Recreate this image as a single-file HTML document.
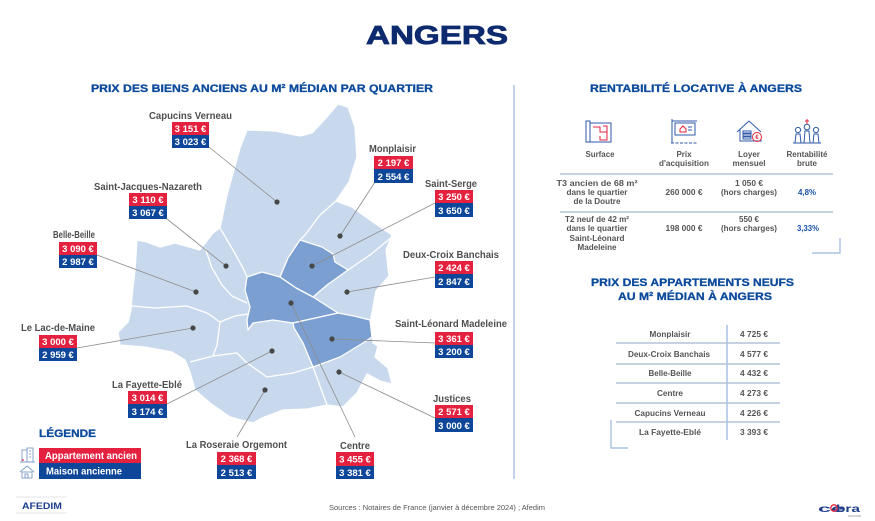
<!DOCTYPE html>
<html><head><meta charset="utf-8"><style>
html,body{margin:0;padding:0;background:#fff;}
svg{display:block;font-family:"Liberation Sans",Arial,sans-serif;}
</style></head><body>
<svg width="875" height="521" viewBox="0 0 875 521" xmlns="http://www.w3.org/2000/svg">
<rect width="875" height="521" fill="#fff"/>
<!-- Title -->
<text x="437" y="44" text-anchor="middle" font-size="26" font-weight="bold" fill="#0d2a6e" textLength="142" lengthAdjust="spacingAndGlyphs" stroke="#0d2a6e" stroke-width="0.8">ANGERS</text>
<!-- Left header -->
<text x="91" y="92" font-size="11" font-weight="bold" fill="#0c4a9c" textLength="342" lengthAdjust="spacingAndGlyphs" stroke="#0c4a9c" stroke-width="0.3">PRIX DES BIENS ANCIENS AU M² MÉDIAN PAR QUARTIER</text>
<!-- divider -->
<line x1="514" y1="85" x2="514" y2="479" stroke="#9bb7df" stroke-width="1.2"/>

<!-- MAP -->
<g stroke="#fff" stroke-width="1.3" stroke-linejoin="round">
<polygon fill="#c9d9ed" points="247,130 275,131 300,136 312,133 326,118 338,104 348,107 355,127 357,157 349,182 336,201 352,207 370,220 392,235 386,250 389,276 376,291 371,318 373,343 378,346 375,357 388,368 392,384 380,381 367,374 357,393 343,407 327,405 307,409 283,410 262,418 253,423 230,417 210,403 195,390 190,372 185,360 172,352 145,347 120,345 118,332 128,322 131,310 132,296 135,270 137,240 147,242 160,247 175,243 200,250 213,233 220,228 227,195 234,170 240,148"/>
<polygon fill="#7b9fd1" points="300,240 322,247 333,254 335,262 348,270 327,285 313,297 296,288 280,277 288,258"/>
<polygon fill="#7b9fd1" points="247,277 262,272 280,277 296,288 313,297 338,313 320,317 293,323 273,320 253,323 248,330 247,320 250,307 245,290"/>
<polygon fill="#7b9fd1" points="338,313 354,316 370,320 372,337 363,343 340,357 313,367 303,343 294,328 293,323 320,317"/>
</g>
<g stroke="#fff" stroke-width="1.3" fill="none" stroke-linejoin="round">
<polyline points="336,201 320,215 305,235 300,240"/>
<polyline points="220,228 233,250 243,268 247,277"/>
<polyline points="205,248 212,268 222,285 232,296 247,303"/>
<polyline points="132,306 155,308 187,306 207,313 220,322 235,316 248,314"/>
<polyline points="220,322 217,345 213,356"/>
<polyline points="190,362 213,356 237,353 247,363 267,377 293,373 313,367"/>
<polyline points="313,367 320,386 327,405"/>
<polyline points="348,270 370,255 392,237"/>
</g>

<!-- leader lines -->
<g stroke="#8c8c8c" stroke-width="0.8" fill="none">
<line x1="209" y1="147" x2="277" y2="202"/>
<line x1="167" y1="219" x2="226" y2="266"/>
<line x1="97" y1="255" x2="196" y2="292"/>
<line x1="77" y1="348" x2="193" y2="328"/>
<line x1="167" y1="404" x2="272" y2="351"/>
<line x1="237" y1="437" x2="265" y2="390"/>
<line x1="355" y1="437" x2="291" y2="303"/>
<line x1="435" y1="343" x2="332" y2="339"/>
<line x1="435" y1="418" x2="339" y2="372"/>
<line x1="435" y1="277" x2="347" y2="292"/>
<line x1="435" y1="203" x2="312" y2="266"/>
<line x1="375" y1="182" x2="340" y2="236"/>
</g>
<g fill="#474747">
<circle cx="277" cy="202" r="2.6"/><circle cx="226" cy="266" r="2.6"/><circle cx="196" cy="292" r="2.6"/>
<circle cx="193" cy="328" r="2.6"/><circle cx="272" cy="351" r="2.6"/><circle cx="265" cy="390" r="2.6"/>
<circle cx="291" cy="303" r="2.6"/><circle cx="332" cy="339" r="2.6"/><circle cx="339" cy="372" r="2.6"/>
<circle cx="347" cy="292" r="2.6"/><circle cx="312" cy="266" r="2.6"/><circle cx="340" cy="236" r="2.6"/>
</g>

<!-- labels -->
<g font-size="10" font-weight="bold" fill="#4f4f4f" lengthAdjust="spacingAndGlyphs">
<text x="149" y="119" textLength="83" lengthAdjust="spacingAndGlyphs">Capucins Verneau</text>
<text x="94" y="190" textLength="108" lengthAdjust="spacingAndGlyphs">Saint-Jacques-Nazareth</text>
<text x="53" y="238" textLength="42" lengthAdjust="spacingAndGlyphs">Belle-Beille</text>
<text x="21" y="331" textLength="74" lengthAdjust="spacingAndGlyphs">Le Lac-de-Maine</text>
<text x="112" y="388" textLength="70" lengthAdjust="spacingAndGlyphs">La Fayette-Eblé</text>
<text x="186" y="448" textLength="101" lengthAdjust="spacingAndGlyphs">La Roseraie Orgemont</text>
<text x="340" y="449" textLength="30" lengthAdjust="spacingAndGlyphs">Centre</text>
<text x="433" y="402" textLength="38" lengthAdjust="spacingAndGlyphs">Justices</text>
<text x="395" y="327" textLength="112" lengthAdjust="spacingAndGlyphs">Saint-Léonard Madeleine</text>
<text x="403" y="258" textLength="96" lengthAdjust="spacingAndGlyphs">Deux-Croix Banchais</text>
<text x="425" y="187" textLength="52" lengthAdjust="spacingAndGlyphs">Saint-Serge</text>
<text x="369" y="152" textLength="47" lengthAdjust="spacingAndGlyphs">Monplaisir</text>
</g>

<!-- price boxes -->
<g font-size="9.5" font-weight="bold" fill="#fff" text-anchor="middle">
<rect x="172" y="122" width="37" height="13" fill="#e4223f"/><rect x="172" y="135" width="37" height="13" fill="#0e4799"/>
<text x="190.5" y="132">3 151 €</text><text x="190.5" y="145">3 023 €</text>
<rect x="129" y="193" width="38" height="13" fill="#e4223f"/><rect x="129" y="206" width="38" height="13" fill="#0e4799"/>
<text x="148" y="203">3 110 €</text><text x="148" y="216">3 067 €</text>
<rect x="59" y="242" width="38" height="13" fill="#e4223f"/><rect x="59" y="255" width="38" height="13" fill="#0e4799"/>
<text x="78" y="252">3 090 €</text><text x="78" y="265">2 987 €</text>
<rect x="39" y="335" width="38" height="13" fill="#e4223f"/><rect x="39" y="348" width="38" height="13" fill="#0e4799"/>
<text x="58" y="345">3 000 €</text><text x="58" y="358">2 959 €</text>
<rect x="128" y="391" width="39" height="13" fill="#e4223f"/><rect x="128" y="404" width="39" height="14" fill="#0e4799"/>
<text x="147.5" y="401">3 014 €</text><text x="147.5" y="415">3 174 €</text>
<rect x="217" y="452" width="39" height="13" fill="#e4223f"/><rect x="217" y="465" width="39" height="14" fill="#0e4799"/>
<text x="236.5" y="462">2 368 €</text><text x="236.5" y="476">2 513 €</text>
<rect x="336" y="452" width="38" height="14" fill="#e4223f"/><rect x="336" y="466" width="38" height="13" fill="#0e4799"/>
<text x="355" y="462.5">3 455 €</text><text x="355" y="476">3 381 €</text>
<rect x="435" y="405" width="38" height="13" fill="#e4223f"/><rect x="435" y="418" width="38" height="14" fill="#0e4799"/>
<text x="454" y="415">2 571 €</text><text x="454" y="429">3 000 €</text>
<rect x="435" y="332" width="38" height="13" fill="#e4223f"/><rect x="435" y="345" width="38" height="13" fill="#0e4799"/>
<text x="454" y="342">3 361 €</text><text x="454" y="355">3 200 €</text>
<rect x="435" y="261" width="38" height="13" fill="#e4223f"/><rect x="435" y="274" width="38" height="14" fill="#0e4799"/>
<text x="454" y="271">2 424 €</text><text x="454" y="285">2 847 €</text>
<rect x="435" y="190" width="38" height="13" fill="#e4223f"/><rect x="435" y="203" width="38" height="14" fill="#0e4799"/>
<text x="454" y="200">3 250 €</text><text x="454" y="214">3 650 €</text>
<rect x="374" y="156" width="39" height="13" fill="#e4223f"/><rect x="374" y="169" width="39" height="14" fill="#0e4799"/>
<text x="393.5" y="166">2 197 €</text><text x="393.5" y="180">2 554 €</text>
</g>

<!-- Legend -->
<text x="39" y="437" font-size="11" font-weight="bold" fill="#0c4a9c" textLength="57" lengthAdjust="spacingAndGlyphs" stroke="#0c4a9c" stroke-width="0.3">LÉGENDE</text>
<rect x="39" y="448" width="102" height="15" fill="#e4223f"/>
<rect x="39" y="463" width="102" height="16" fill="#0e4799"/>
<text x="45" y="459" font-size="10" font-weight="bold" fill="#fff" textLength="92" lengthAdjust="spacingAndGlyphs">Appartement ancien</text>
<text x="46" y="474.5" font-size="10" font-weight="bold" fill="#fff" textLength="76" lengthAdjust="spacingAndGlyphs">Maison ancienne</text>
<g stroke="#7d9cc9" stroke-width="0.9" fill="none">
<rect x="22" y="450" width="5" height="12"/><rect x="27" y="448" width="6" height="14"/>
<line x1="20" y1="462" x2="35" y2="462"/>
<line x1="29" y1="451" x2="31" y2="451"/><line x1="29" y1="454" x2="31" y2="454"/><line x1="29" y1="457" x2="31" y2="457"/>
<polyline points="20,472 27,466 34,472"/><rect x="22" y="472" width="10" height="6"/><rect x="25" y="474" width="3" height="4"/>
</g>
<circle cx="23" cy="460" r="0.9" fill="#e4223f"/>

<!-- Afedim logo -->
<line x1="16" y1="497" x2="67" y2="497" stroke="#ddd" stroke-width="0.8"/>
<line x1="16" y1="513" x2="67" y2="513" stroke="#ddd" stroke-width="0.8"/>
<text x="22" y="509" font-size="9" font-weight="bold" fill="#1d3f8e" textLength="40" lengthAdjust="spacingAndGlyphs">AFEDIM</text>

<!-- Footer -->
<text x="329" y="510" font-size="7.5" fill="#555" textLength="216" lengthAdjust="spacingAndGlyphs">Sources : Notaires de France (janvier à décembre 2024) ; Afedim</text>

<!-- Ebra logo -->
<text x="818" y="512" font-size="10" font-weight="bold" fill="#1f3f8a" textLength="26" lengthAdjust="spacingAndGlyphs">ce</text>
<text x="836" y="512" font-size="10" font-weight="bold" fill="#1f3f8a" textLength="24" lengthAdjust="spacingAndGlyphs">bra</text>
<circle cx="834" cy="508" r="3.2" fill="none" stroke="#e4223f" stroke-width="1.3"/>
<text x="848" y="517" font-size="3" fill="#888">GROUPE</text>

<!-- RIGHT: Rentabilité -->
<text x="590" y="92" font-size="11" font-weight="bold" fill="#0c4a9c" textLength="212" lengthAdjust="spacingAndGlyphs" stroke="#0c4a9c" stroke-width="0.3">RENTABILITÉ LOCATIVE À ANGERS</text>

<!-- icons -->
<g stroke="#2d5aa8" stroke-width="1" fill="none">
<!-- surface -->
<rect x="586" y="121" width="4" height="21"/>
<rect x="590" y="123" width="21" height="19"/>
<!-- prix -->
<line x1="672" y1="119" x2="672" y2="143"/><line x1="671" y1="143" x2="697" y2="143" stroke-dasharray="3,1.5"/>
<line x1="672" y1="121" x2="697" y2="121"/>
<rect x="675" y="123" width="20" height="12"/>
<line x1="688" y1="127" x2="692" y2="127"/><line x1="688" y1="130" x2="692" y2="130"/>
<!-- loyer -->
<polyline points="737,132 749,121 761,132"/>
<polyline points="740,129 740,141 762,141"/>
<rect x="743" y="131" width="8" height="2"/><rect x="743" y="134" width="8" height="2"/><rect x="743" y="137" width="8" height="2"/>
<!-- rentabilite -->
<circle cx="798" cy="130" r="2.6"/><circle cx="807" cy="127" r="2.8"/><circle cx="816" cy="130" r="2.6"/>
<path d="M795,143 L796,134 L800,134 L801,143 Z"/>
<path d="M804,143 L805,131 L809,131 L810,143 Z"/>
<path d="M813,143 L814,134 L818,134 L819,143 Z"/>
<line x1="793" y1="143" x2="821" y2="143"/>
</g>
<g stroke="#e4223f" stroke-width="1" fill="none">
<polyline points="593,127 600,127 600,132 607,132"/><polyline points="603,126 607,126 607,140 600,140 600,136"/>
<path d="M680,129 L683,126 L686,129 L686,132 L680,132 Z"/>
<circle cx="757" cy="137" r="4.5"/>
<line x1="807" y1="119" x2="807" y2="124"/><line x1="805" y1="121" x2="809" y2="121"/>
</g>
<text x="757" y="139" font-size="6" fill="#e4223f" text-anchor="middle" font-weight="bold">€</text>

<g font-size="8" font-weight="bold" fill="#555" text-anchor="middle">
<text x="600" y="157" textLength="29" lengthAdjust="spacingAndGlyphs">Surface</text>
<text x="684" y="157">Prix</text>
<text x="684" y="166" textLength="50" lengthAdjust="spacingAndGlyphs">d'acquisition</text>
<text x="749" y="157">Loyer</text>
<text x="749" y="166" textLength="33" lengthAdjust="spacingAndGlyphs">mensuel</text>
<text x="807" y="157" textLength="41" lengthAdjust="spacingAndGlyphs">Rentabilité</text>
<text x="807" y="166">brute</text>

<text x="597" y="186" textLength="81" lengthAdjust="spacingAndGlyphs">T3 ancien de 68 m²</text>
<text x="597" y="195" textLength="61" lengthAdjust="spacingAndGlyphs">dans le quartier</text>
<text x="597" y="204" textLength="47" lengthAdjust="spacingAndGlyphs">de la Doutre</text>
<text x="684" y="195" textLength="37" lengthAdjust="spacingAndGlyphs">260 000 €</text>
<text x="749" y="186" textLength="28" lengthAdjust="spacingAndGlyphs">1 050 €</text>
<text x="749" y="195" textLength="56" lengthAdjust="spacingAndGlyphs">(hors charges)</text>
<text x="807" y="195" fill="#1a52a8" textLength="18" lengthAdjust="spacingAndGlyphs">4,8%</text>

<text x="597" y="222" textLength="64" lengthAdjust="spacingAndGlyphs">T2 neuf de 42 m²</text>
<text x="597" y="231" textLength="61" lengthAdjust="spacingAndGlyphs">dans le quartier</text>
<text x="597" y="241" textLength="55" lengthAdjust="spacingAndGlyphs">Saint-Léonard</text>
<text x="597" y="250" textLength="39" lengthAdjust="spacingAndGlyphs">Madeleine</text>
<text x="684" y="231" textLength="37" lengthAdjust="spacingAndGlyphs">198 000 €</text>
<text x="749" y="222" textLength="20" lengthAdjust="spacingAndGlyphs">550 €</text>
<text x="749" y="231" textLength="56" lengthAdjust="spacingAndGlyphs">(hors charges)</text>
<text x="808" y="231" fill="#1a52a8" textLength="22" lengthAdjust="spacingAndGlyphs">3,33%</text>
</g>
<line x1="560" y1="174" x2="833" y2="174" stroke="#b3c3dc" stroke-width="1.5"/>
<line x1="560" y1="212" x2="833" y2="212" stroke="#b3c3dc" stroke-width="1.5"/>
<polyline points="840,238 840,253 812,253" fill="none" stroke="#9bb7df" stroke-width="1.2"/>

<!-- RIGHT: prix neufs -->
<text x="591" y="286" font-size="11" font-weight="bold" fill="#0c4a9c" textLength="203" lengthAdjust="spacingAndGlyphs" stroke="#0c4a9c" stroke-width="0.3">PRIX DES APPARTEMENTS NEUFS</text>
<text x="618" y="300" font-size="11" font-weight="bold" fill="#0c4a9c" textLength="154" lengthAdjust="spacingAndGlyphs" stroke="#0c4a9c" stroke-width="0.3">AU M² MÉDIAN À ANGERS</text>

<line x1="727" y1="325" x2="727" y2="440" stroke="#8fb0dc" stroke-width="1.2"/>
<g stroke="#b3c3dc" stroke-width="1.4">
<line x1="616" y1="343" x2="780" y2="343"/>
<line x1="616" y1="364" x2="780" y2="364"/>
<line x1="616" y1="383" x2="780" y2="383"/>
<line x1="616" y1="403" x2="780" y2="403"/>
<line x1="616" y1="422" x2="780" y2="422"/>
</g>
<polyline points="611,420 611,448 628,448" fill="none" stroke="#9bb7df" stroke-width="1.2"/>
<g font-size="8" font-weight="bold" fill="#555" text-anchor="middle">
<text x="670" y="337" textLength="41" lengthAdjust="spacingAndGlyphs">Monplaisir</text>
<text x="669" y="357" textLength="82" lengthAdjust="spacingAndGlyphs">Deux-Croix Banchais</text>
<text x="670" y="376" textLength="43" lengthAdjust="spacingAndGlyphs">Belle-Beille</text>
<text x="670" y="396" textLength="26" lengthAdjust="spacingAndGlyphs">Centre</text>
<text x="670" y="416" textLength="71" lengthAdjust="spacingAndGlyphs">Capucins Verneau</text>
<text x="670" y="435" textLength="62" lengthAdjust="spacingAndGlyphs">La Fayette-Eblé</text>
<text x="754" y="337" textLength="28" lengthAdjust="spacingAndGlyphs">4 725 €</text>
<text x="754" y="357" textLength="28" lengthAdjust="spacingAndGlyphs">4 577 €</text>
<text x="754" y="376" textLength="28" lengthAdjust="spacingAndGlyphs">4 432 €</text>
<text x="754" y="396" textLength="28" lengthAdjust="spacingAndGlyphs">4 273 €</text>
<text x="754" y="416" textLength="28" lengthAdjust="spacingAndGlyphs">4 226 €</text>
<text x="754" y="435" textLength="28" lengthAdjust="spacingAndGlyphs">3 393 €</text>
</g>
</svg>
</body></html>
